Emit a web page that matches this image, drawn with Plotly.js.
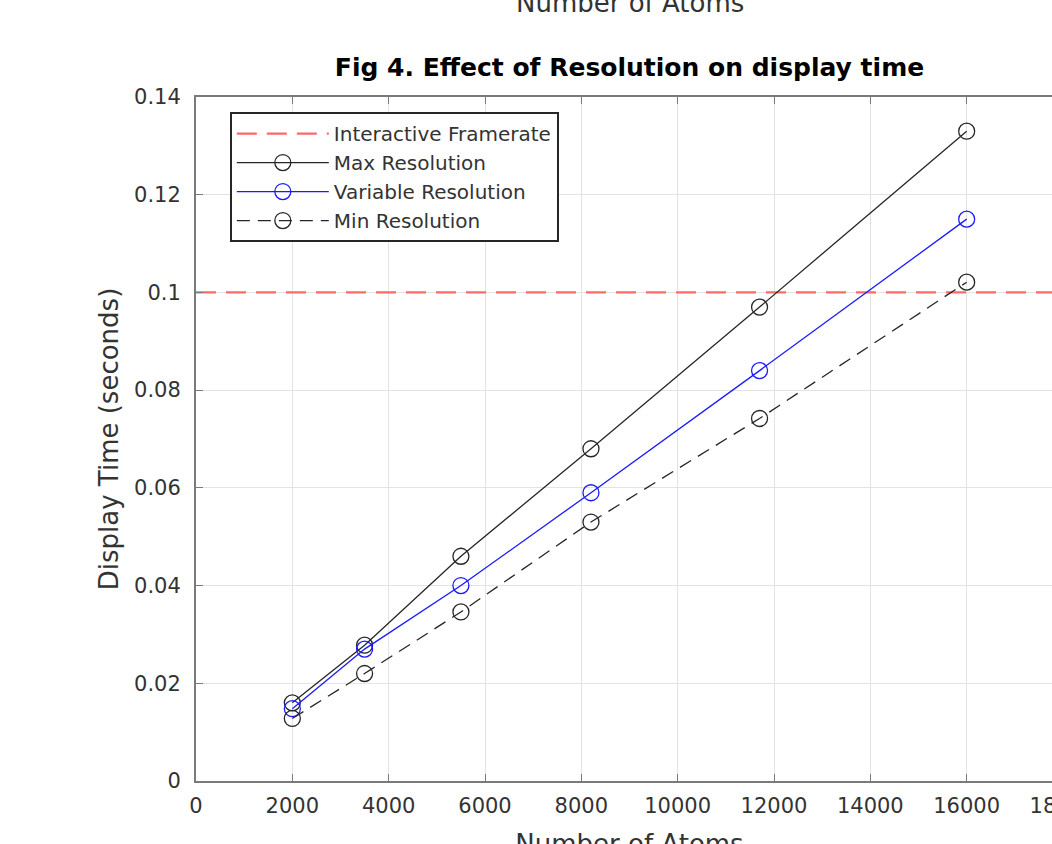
<!DOCTYPE html>
<html>
<head>
<meta charset="utf-8">
<script src="https://cdn.plot.ly/plotly-3.0.1.min.js"></script>
<style>
html,body{margin:0;padding:0;overflow:hidden;background:#fff;}
#chart{width:1100px;height:880px;}
</style>
</head>
<body>
<div id="chart"></div>
<script>
// Data
const atoms = [2000, 3500, 5500, 8200, 11700, 16000];
const maxRes = [0.0160, 0.0278, 0.0460, 0.0680, 0.0970, 0.1330];
const varRes = [0.0148, 0.0270, 0.0400, 0.0590, 0.0840, 0.1150];
const minRes = [0.0128, 0.0220, 0.0346, 0.0530, 0.0742, 0.1021];
const framerateX = [0, 18000];
const framerateY = [0.1, 0.1];
const xTicks = [0, 2000, 4000, 6000, 8000, 10000, 12000, 14000, 16000, 18000];
const yTicks = [0, 0.02, 0.04, 0.06, 0.08, 0.1, 0.12, 0.14];
const yTickLabels = ['0', '0.02', '0.04', '0.06', '0.08', '0.1', '0.12', '0.14'];

const FONT = '"DejaVu Sans", "Liberation Sans", Arial, sans-serif';

const traces = [
  {x: framerateX, y: framerateY, name: 'Interactive Framerate', mode: 'lines',
   line: {color: 'rgb(255,105,105)', width: 2.2, dash: '20px,10px'}},
  {x: atoms, y: maxRes, name: 'Max Resolution', mode: 'lines+markers',
   line: {color: '#262626', width: 1.3},
   marker: {symbol: 'circle-open', size: 16, color: '#262626', line: {width: 1.3}}},
  {x: atoms, y: varRes, name: 'Variable Resolution', mode: 'lines+markers',
   line: {color: '#1a1aff', width: 1.3},
   marker: {symbol: 'circle-open', size: 16, color: '#1a1aff', line: {width: 1.3}}},
  {x: atoms, y: minRes, name: 'Min Resolution', mode: 'lines+markers',
   line: {color: '#262626', width: 1.3, dash: '13px,8px'},
   marker: {symbol: 'circle-open', size: 16, color: '#262626', line: {width: 1.3}}}
];

const layout = {
  width: 1100, height: 880,
  margin: {l: 196, r: 37, t: 97, b: 99},
  paper_bgcolor: '#fff', plot_bgcolor: '#fff',
  font: {family: FONT, color: '#262626', size: 21},
  showlegend: true,
  title: {text: '<b>Fig 4. Effect of Resolution on display time</b>',
          font: {family: FONT, size: 25, color: '#000'},
          x: 0.5, xref: 'paper', xanchor: 'center', y: 1, yref: 'paper', yanchor: 'bottom',
          pad: {b: 21}},
  xaxis: {
    range: [0, 18000], tickvals: xTicks, ticktext: xTicks.map(String),
    showgrid: true, gridcolor: '#e3e3e3', gridwidth: 1, zeroline: false,
    showline: true, linecolor: '#7a7a7a', linewidth: 2, mirror: 'ticks',
    ticks: 'inside', ticklen: 7, tickcolor: '#7a7a7a', tickwidth: 1,
    ticklabelstandoff: 5,
    tickfont: {size: 21, color: '#333333'},
    title: {text: 'Number of Atoms', font: {size: 26, color: '#333333'}, standoff: 18}
  },
  yaxis: {
    range: [0, 0.14], tickvals: yTicks, ticktext: yTickLabels,
    showgrid: true, gridcolor: '#e3e3e3', gridwidth: 1, zeroline: false,
    showline: true, linecolor: '#7a7a7a', linewidth: 2, mirror: 'ticks',
    ticks: 'inside', ticklen: 7, tickcolor: '#7a7a7a', tickwidth: 1,
    ticklabelstandoff: 9,
    tickfont: {size: 21, color: '#333333'},
    title: {text: 'Display Time (seconds)', font: {size: 26, color: '#333333'}, standoff: 8}
  },
  legend: {
    x: 0.039, y: 0.978, xanchor: 'left', yanchor: 'top',
    bgcolor: '#fff', bordercolor: '#262626', borderwidth: 2,
    font: {size: 20, color: '#333333'},
    itemwidth: 92, tracegroupgap: 0,
    itemclick: false
  },
  annotations: [
    {text: 'Number of Atoms', xref: 'paper', yref: 'paper', x: 0.5, y: 1,
     xanchor: 'center', yanchor: 'middle', yshift: 94, showarrow: false,
     font: {size: 26, color: '#333333'}}
  ]
};

Plotly.newPlot('chart', traces, layout, {displayModeBar: false, staticPlot: true});
</script>
</body>
</html>
